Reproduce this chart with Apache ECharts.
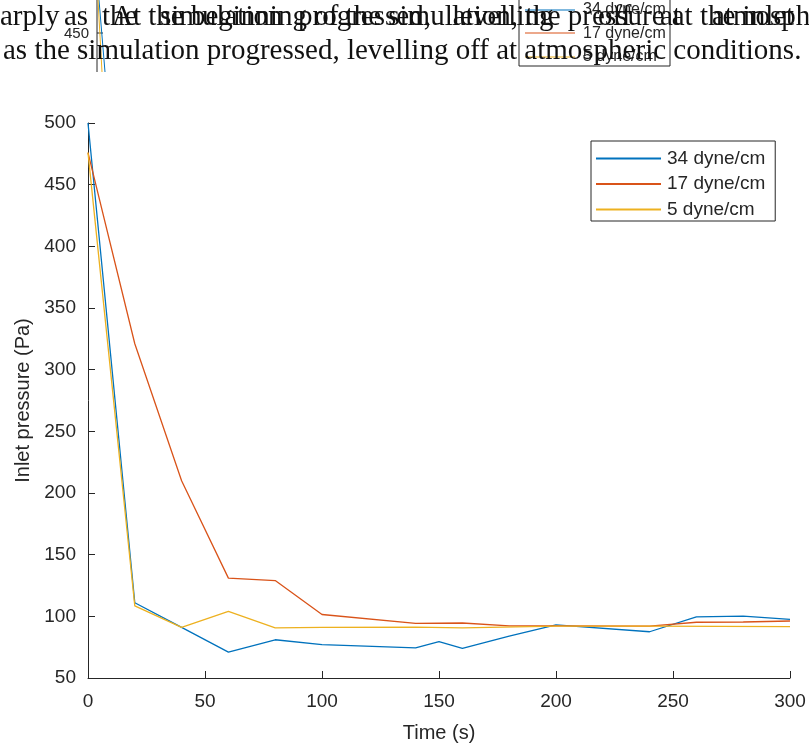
<!DOCTYPE html>
<html>
<head>
<meta charset="utf-8">
<title>Inlet pressure</title>
<script src="https://cdn.jsdelivr.net/npm/echarts@6/dist/echarts.min.js"></script>
<style>
  html, body { margin: 0; padding: 0; background: #ffffff; }
  #chart { width: 809px; height: 749px; }
</style>
</head>
<body>
<div id="chart"></div>
<script>
// Inlet pressure over time for three surface tensions
const seriesNames = ['34 dyne/cm', '17 dyne/cm', '5 dyne/cm'];
const seriesColors = ['#0072BD', '#D95319', '#EDB120'];

const time34 = [0, 20, 40, 60, 80, 100, 140, 150, 160, 180, 200, 240, 260, 280, 300];
const pressure34 = [500, 111, 91, 71, 81, 77, 74.5, 79.5, 74, 84, 93, 87.5, 99.5, 100.2, 97.5];

const time17 = [0, 20, 40, 60, 80, 100, 140, 160, 180, 200, 240, 260, 280, 300];
const pressure17 = [476, 321, 210, 131, 129, 101.5, 94.3, 94.6, 92.3, 92.3, 92, 95.2, 95.4, 96.2];

const time5 = [0, 20, 40, 60, 80, 100, 140, 160, 200, 240, 300];
const pressure5 = [476, 108.5, 91, 104, 90.7, 91, 91.2, 90.6, 92, 92, 91.6];

const xTicks = { min: 0, max: 300, interval: 50 };
const yTicks = { min: 50, max: 500, interval: 50 };

// Surrounding page text above the figure: a justified line, an overprinted line, and the next line
const justifiedWords = ['arply', 'as', 'the', 'simulation', 'progressed,', 'levelling', 'off', 'at', 'atmospheric'];
const justifiedStarts = [0, 64, 102, 160, 298, 452, 598, 660, 712];
const overprintLine = 'At the beginning of the simulation, the pressure at the inlet';
const bodyLine2 = 'as the simulation progressed, levelling off at atmospheric conditions.';

function pairs(ts, vs) {
  return ts.map((t, i) => [t, vs[i]]);
}

const axisColor = '#262626';
const textColor = '#111111';
const sans = 'Liberation Sans, Arial, sans-serif';
const serif = 'Liberation Serif, Times New Roman, serif';
const bodyFont = '29px ' + serif;

const chart = echarts.init(document.getElementById('chart'), null, { renderer: 'canvas' });

const dataSets = [pairs(time34, pressure34), pairs(time17, pressure17), pairs(time5, pressure5)];

// fragment of the preceding figure peeking out above the text
const previousFigure = [
  { type: 'line', shape: { x1: 97, y1: 0, x2: 97, y2: 72 }, style: { stroke: axisColor, lineWidth: 1 }, z: 1 },
  { type: 'line', shape: { x1: 97, y1: 33, x2: 103, y2: 33 }, style: { stroke: axisColor, lineWidth: 1 }, z: 1 },
  { type: 'text', style: { x: 89, y: 34, text: '450', font: '15px ' + sans, fill: axisColor, align: 'right', verticalAlign: 'middle' }, z: 1 },
  { type: 'line', shape: { x1: 99, y1: 0, x2: 105, y2: 72 }, style: { stroke: '#0072BD', lineWidth: 1 }, z: 1 },
  { type: 'line', shape: { x1: 98, y1: 0, x2: 102, y2: 72 }, style: { stroke: '#EDB120', lineWidth: 1 }, z: 1 },
  { type: 'rect', shape: { x: 519, y: -10, width: 151, height: 76 }, style: { fill: '#ffffff', stroke: axisColor, lineWidth: 1 }, z: 1 },
  { type: 'line', shape: { x1: 525, y1: 10, x2: 575, y2: 10 }, style: { stroke: '#0072BD', lineWidth: 1.2 }, z: 1 },
  { type: 'text', style: { x: 583, y: 10, text: '34 dyne/cm', font: '16px ' + sans, fill: axisColor, verticalAlign: 'middle' }, z: 1 },
  { type: 'line', shape: { x1: 525, y1: 33, x2: 575, y2: 33 }, style: { stroke: '#D95319', lineWidth: 1.2 }, z: 1 },
  { type: 'text', style: { x: 583, y: 34, text: '17 dyne/cm', font: '16px ' + sans, fill: axisColor, verticalAlign: 'middle' }, z: 1 },
  { type: 'line', shape: { x1: 525, y1: 57, x2: 575, y2: 57 }, style: { stroke: '#EDB120', lineWidth: 1.2 }, z: 1 },
  { type: 'text', style: { x: 583, y: 57, text: '5 dyne/cm', font: '16px ' + sans, fill: axisColor, verticalAlign: 'middle' }, z: 1 }
];

const bodyText = justifiedWords.map((w, i) => ({
  type: 'text',
  style: { x: justifiedStarts[i], y: 17, text: w, font: bodyFont, fill: textColor, verticalAlign: 'middle' },
  z: 5
})).concat([
  { type: 'text', style: { x: 112, y: 17, text: overprintLine, font: bodyFont, fill: textColor, verticalAlign: 'middle' }, z: 5 },
  { type: 'text', style: { x: 3, y: 51, text: bodyLine2, font: bodyFont, fill: textColor, verticalAlign: 'middle' }, z: 5 }
]);

chart.setOption({
  backgroundColor: '#ffffff',
  animation: false,
  grid: { left: 88, right: 19, top: 123, bottom: 71, containLabel: false },
  xAxis: {
    type: 'value',
    min: xTicks.min, max: xTicks.max, interval: xTicks.interval,
    name: 'Time (s)',
    nameLocation: 'middle',
    nameGap: 45,
    nameTextStyle: { fontFamily: sans, fontSize: 20, color: axisColor },
    axisLine: { show: true, lineStyle: { color: axisColor, width: 1 } },
    axisTick: { show: true, inside: true, length: 7, lineStyle: { color: axisColor } },
    axisLabel: { fontFamily: sans, fontSize: 19, color: axisColor, margin: 14 },
    splitLine: { show: false }
  },
  yAxis: {
    type: 'value',
    min: yTicks.min, max: yTicks.max, interval: yTicks.interval,
    name: 'Inlet pressure (Pa)',
    nameLocation: 'middle',
    nameRotate: 90,
    nameGap: 52,
    nameTextStyle: { fontFamily: sans, fontSize: 20, color: axisColor },
    axisLine: { show: true, lineStyle: { color: axisColor, width: 1 } },
    axisTick: { show: true, inside: true, length: 7, lineStyle: { color: axisColor } },
    axisLabel: { fontFamily: sans, fontSize: 19, color: axisColor, margin: 12 },
    splitLine: { show: false }
  },
  legend: {
    orient: 'vertical',
    left: 591, top: 141,
    padding: [8, 10, 2, 5],
    itemWidth: 65, itemHeight: 14, itemGap: 6.5,
    backgroundColor: '#ffffff',
    borderColor: axisColor, borderWidth: 1, borderRadius: 0,
    textStyle: { fontFamily: sans, fontSize: 19, color: axisColor, padding: [0, 0, 0, 1] },
    data: seriesNames.map(n => ({ name: n, icon: 'path://M0,0 L65,0 L65,2 L0,2 Z' }))
  },
  series: seriesNames.map((name, i) => ({
    name: name,
    type: 'line',
    data: dataSets[i],
    symbol: 'none',
    showSymbol: false,
    color: seriesColors[i],
    lineStyle: { color: seriesColors[i], width: 1.3 },
    z: 2 + i
  })),
  graphic: previousFigure.concat(bodyText)
});
</script>
</body>
</html>
